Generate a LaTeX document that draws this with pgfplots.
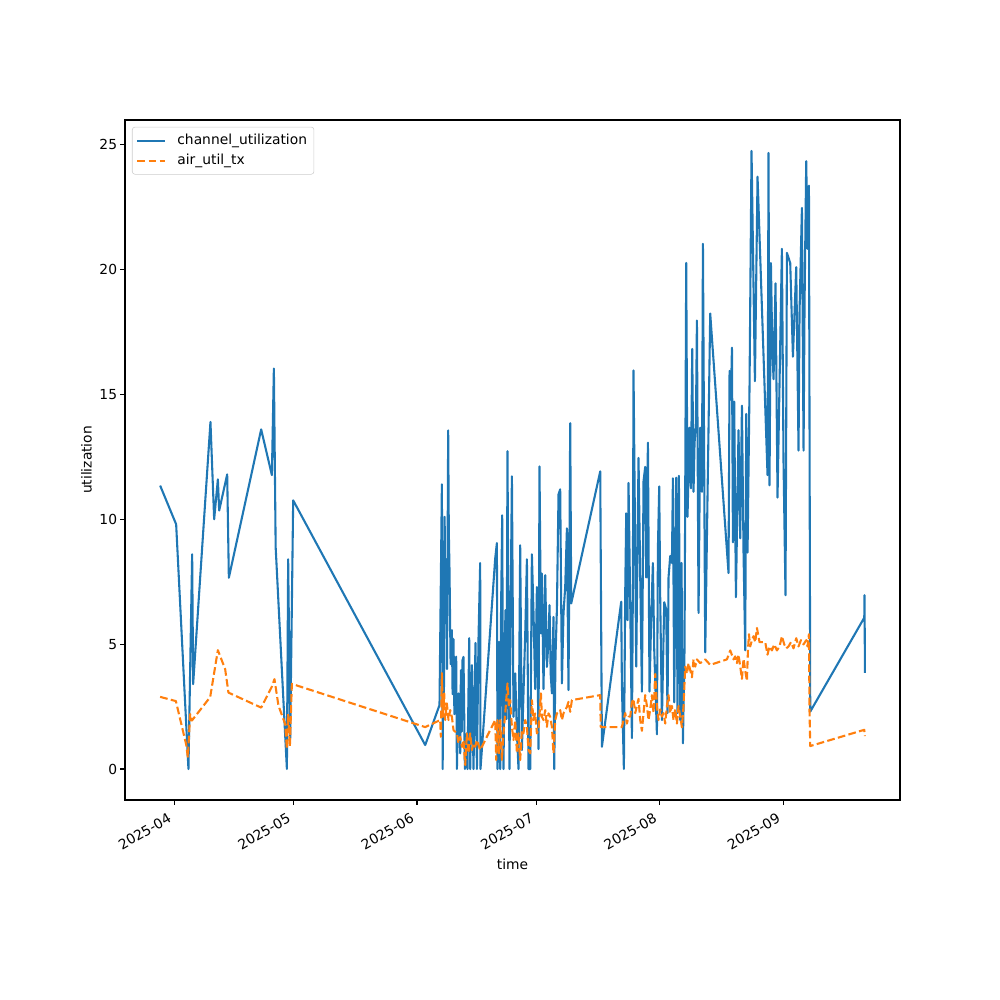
\documentclass[border=0pt]{standalone}
\usepackage{fontspec}
\setmainfont{DejaVu Sans}
\usepackage{pgfplots}
\pgfplotsset{compat=1.18}
\definecolor{c0}{RGB}{31,119,180}
\definecolor{c1}{RGB}{255,127,14}
\begin{document}
\begin{tikzpicture}
\path[use as bounding box] (0,0) rectangle (720bp,720bp);
\begin{axis}[
  at={(90bp,144bp)}, anchor=south west, scale only axis,
  width=558bp, height=489.6bp,
  xmin=-12.35, xmax=182.35, ymin=-1.24, ymax=25.99,
  xtick={0,30,61,91,122,153},
  xticklabels={2025-04,2025-05,2025-06,2025-07,2025-08,2025-09},
  ytick={0,5,10,15,20,25},
  xticklabel style={rotate=30, anchor=north east, inner sep=2bp, xshift=-5bp},
  yticklabel style={inner sep=2bp},
  tick align=outside, major tick length=3.5bp,
  tick style={black, line width=0.8bp},
  axis line style={line width=0.8bp},
  xtick pos=bottom, ytick pos=left,
  /pgf/number format/assume math mode=true,
  tick label style={font=\fontsize{10}{12}\selectfont},
  label style={font=\fontsize{10}{12}\selectfont},
  xlabel={time}, ylabel={utilization},
  legend style={at={(0.009,0.99)}, anchor=north west, draw=black!20, rounded corners=2bp,
    font=\fontsize{10}{12}\selectfont, inner xsep=3bp, inner ysep=3.2bp, row sep=1.5bp,
    /tikz/every odd column/.append style={column sep=6bp}},
  legend cell align=left,
  legend image code/.code={\draw[#1] (0bp,0bp) -- (20bp,0bp);},
]
\addplot[c0, line width=1.5bp, line join=round] coordinates {
(-3.52,11.35) (0.50,9.80) (3.59,0.00) (4.52,8.60) (4.77,3.40) (9.12,13.90) (10.05,10.00)
(10.98,11.60) (11.31,10.35) (13.32,11.80) (13.74,7.66) (21.86,13.60) (24.55,11.77)
(25.05,16.04) (25.50,8.88) (28.32,0.00) (28.64,8.40) (29.15,1.20) (29.90,10.76)
(63.07,0.96) (66.66,2.56) (67.26,11.40) (67.46,0.00) (67.60,9.00) (67.76,2.50)
(67.95,10.10) (68.15,6.00) (68.34,8.40) (68.55,4.00) (68.84,13.56) (69.00,9.50)
(69.17,8.00) (69.45,4.20) (69.77,5.56) (69.95,3.00) (70.18,5.20) (70.40,2.20)
(70.60,3.60) (70.85,4.50)
(71.03,0.00) (71.43,3.03) (71.86,0.63) (72.04,3.96) (72.25,1.50) (72.44,4.36) (72.69,4.49)
(73.04,0.00) (73.54,1.43) (73.69,0.00) (74.12,5.24) (74.37,0.00) (74.80,4.16)
(75.20,0.00) (75.70,5.05) (76.06,0.00) (76.46,5.23) (76.88,8.25) (76.96,0.00)
(80.65,8.43) (81.08,9.05) (81.23,0.00) (81.40,4.00) (81.58,5.09) (81.75,1.00) (81.91,0.00)
(82.10,6.00) (82.41,10.16) (82.60,3.00) (82.74,0.00) (83.00,4.50) (83.24,6.36)
(83.50,2.00) (83.74,12.73) (84.00,5.00) (84.25,0.00) (84.50,6.00) (84.85,11.72) (85.25,2.09)
(85.68,3.83) (86.11,1.43) (86.51,0.00) (86.93,8.96) (87.36,0.76) (87.76,3.03)
(88.20,5.43) (88.62,8.40) (89.02,0.00) (89.45,0.00) (89.87,8.60) (90.28,6.23) (90.70,3.20)
(91.13,7.29) (91.53,0.80) (91.78,12.12) (92.14,5.43) (92.39,7.83) (92.79,3.20)
(93.22,7.76) (93.64,4.09) (94.00,5.00) (94.30,6.56) (94.60,3.80) (94.90,3.03) (95.30,6.09) (95.48,0.00)
(95.80,4.50) (96.16,6.43) (96.56,11.00) (96.98,11.20) (97.41,3.43) (97.81,6.23) (98.24,7.29)
(98.67,9.64) (99.07,3.16) (99.50,13.85) (99.75,6.63) (107.04,11.92) (107.46,0.89)
(112.31,6.70) (112.48,3.39) (112.98,0.00) (113.32,7.10) (113.57,10.24) (113.90,5.96)
(114.15,11.46) (114.57,6.68) (115.00,1.24) (115.25,7.53) (115.40,15.96) (115.83,8.68)
(116.08,4.10) (116.66,12.46) (117.09,7.67) (117.51,3.10) (117.92,11.53) (118.34,12.10)
(118.59,7.67) (119.02,13.07) (119.42,3.10) (119.85,6.10) (120.27,8.25) (120.60,4.82)
(121.28,1.39) (121.53,8.82) (121.86,11.32) (122.11,6.82) (122.54,1.96) (123.12,6.68)
(123.62,6.39) (123.94,2.24) (124.20,7.67) (124.62,8.53) (125.05,8.25) (125.30,11.64)
(125.63,2.67) (126.13,11.67) (126.46,2.24) (126.80,11.74) (127.14,1.96) (127.46,8.25)
(127.81,1.03) (128.22,4.82) (128.64,20.27) (128.97,10.10) (129.47,13.67) (129.82,11.24)
(130.15,16.82) (130.48,11.10) (130.73,13.03) (131.08,13.89) (131.33,17.96) (131.74,6.25)
(132.16,13.67) (132.59,11.10) (132.84,21.03) (133.42,4.67) (134.67,18.24) (139.27,7.85)
(139.53,15.94) (139.87,14.79) (140.13,16.87) (140.38,9.08) (140.70,14.71) (141.13,6.88)
(141.78,13.57) (142.21,9.24) (142.64,14.55) (143.04,8.67) (143.47,4.75) (143.72,14.22)
(144.05,8.67) (144.55,15.36) (145.05,24.75) (145.90,15.53) (146.56,23.72) (149.07,11.77)
(149.32,24.67) (149.57,11.36) (149.92,20.26) (150.25,17.00) (150.58,15.61) (151.08,19.45)
(151.58,10.87) (152.68,20.83) (153.09,12.26) (153.59,6.96) (153.94,20.67) (154.77,20.26)
(155.45,16.51) (156.28,20.10) (156.86,12.75) (157.11,18.30) (157.71,22.47) (158.12,12.75)
(158.37,18.63) (158.79,24.34) (159.12,20.83) (159.47,23.36) (159.80,2.30) (173.37,6.06)
(173.44,6.96) (173.54,3.85)
};
\addlegendentry{channel\_utilization}
\addplot[c1, line width=1.5bp, line join=round, dash pattern=on 5.55bp off 2.4bp] coordinates {
(-3.52,2.89) (0.43,2.72) (3.02,0.98) (3.44,0.46) (4.02,2.20) (4.45,1.94) (9.05,2.88)
(10.98,4.76) (12.81,4.00) (13.64,3.06) (21.86,2.46) (24.55,3.30) (25.20,3.60) (26.20,2.54)
(27.89,1.80) (28.32,0.80) (28.64,2.20) (29.07,0.90) (29.57,3.41) (63.07,1.68) (66.83,1.96)
(67.00,1.29) (67.26,3.84) (67.51,2.09) (67.84,3.03) (68.09,1.96) (68.51,2.63) (68.92,1.96)
(69.35,2.36) (69.77,2.09) (70.18,1.56) (71.03,1.43) (71.43,1.03) (71.86,1.29) (72.29,0.89)
(72.69,1.16) (73.12,0.16) (73.54,1.43) (73.94,0.63) (74.37,1.43) (74.80,0.76) (75.20,1.03)
(75.63,0.89) (76.06,1.16) (76.88,0.76) (80.65,1.96) (80.90,0.36) (81.23,1.96) (81.58,0.63)
(81.91,1.96) (82.33,0.36) (82.74,1.43) (83.17,2.23) (83.74,3.43) (84.09,2.49) (84.42,2.76)
(84.85,1.69) (85.25,1.16) (85.68,1.96) (86.11,0.63) (86.51,1.43) (86.93,0.36) (87.36,1.56)
(87.76,1.43) (88.19,1.96) (88.62,1.69) (89.02,0.76) (89.45,0.63) (89.87,2.76) (90.28,1.96)
(90.70,2.23) (91.13,1.43) (91.53,1.56) (92.14,3.03) (92.39,2.09) (92.79,1.96) (93.22,2.36)
(93.64,1.69) (94.05,2.23) (94.47,2.09) (94.90,1.69) (95.30,0.63) (95.73,1.96) (96.16,2.23)
(96.98,2.36) (97.41,1.96) (97.81,2.23) (98.67,2.49) (99.07,2.69) (99.50,2.29) (99.92,2.76)
(107.04,2.96) (107.16,1.68) (112.48,1.68) (112.89,1.96) (113.32,2.24) (113.74,1.82)
(114.15,2.10) (114.57,2.10) (115.00,2.67) (115.40,2.81) (115.83,2.24) (116.26,2.53)
(116.66,2.81) (117.09,1.96) (117.51,1.53) (117.92,2.24) (118.34,2.96) (118.77,2.53)
(119.17,1.96) (119.60,2.39) (120.03,2.96) (120.43,2.24) (120.85,3.81) (121.28,2.53)
(121.68,1.96) (122.11,2.39) (122.54,2.10) (122.94,2.24) (123.37,1.82) (123.79,2.53)
(124.20,2.96) (124.62,2.24) (125.05,2.53) (125.45,1.96) (125.88,2.39) (126.31,1.82)
(126.71,2.53) (127.14,2.10) (127.56,1.67) (127.97,2.53) (128.39,4.10) (128.82,3.81)
(129.22,4.24) (129.65,3.96) (130.08,3.67) (130.48,4.39) (130.90,4.10) (131.33,4.39)
(132.16,4.24) (133.42,4.39) (134.67,4.17) (138.87,4.39) (139.70,4.75) (140.53,4.39)
(140.95,4.51) (141.38,4.24) (141.78,4.58) (142.21,4.10) (142.64,3.61) (143.04,4.42)
(143.47,3.93) (143.89,3.53) (144.15,4.75) (144.40,5.40) (144.72,4.91) (145.15,5.16)
(145.55,5.32) (145.98,5.08) (146.41,5.65) (147.06,5.08) (148.49,5.08) (149.07,4.58)
(149.57,4.91) (150.18,4.75) (150.75,4.99) (151.43,4.75) (152.09,4.91) (152.69,5.32)
(153.27,4.99) (153.77,4.83) (154.35,4.91) (154.95,5.08) (155.60,4.83) (156.28,5.24)
(156.86,4.91) (157.46,5.16) (158.12,4.99) (158.79,5.16) (159.12,4.91) (159.47,5.40)
(159.62,2.30) (159.80,0.92) (173.37,1.57) (173.54,1.32)
};
\addlegendentry{air\_util\_tx}
\end{axis}
\end{tikzpicture}
\end{document}
